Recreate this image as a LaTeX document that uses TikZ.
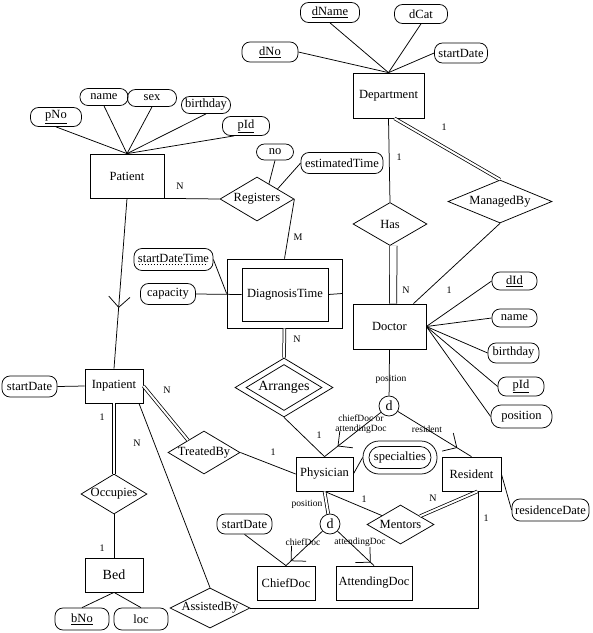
\documentclass[tikz,border=0pt]{standalone}
\usepackage{fontspec}
\setmainfont{Liberation Serif}
\usetikzlibrary{shapes.geometric,calc,positioning}

% V-shaped subset mark: apex on the line, opening toward the superclass
\newcommand{\isamark}[2]{\draw ($(#1)!15pt!45:(#2)$) -- (#1) -- ($(#1)!15pt!-45:(#2)$);}
% dashed underline for a partial key
\newcommand{\dashul}[1]{\setbox0\hbox{#1}\leavevmode\rlap{\raisebox{-2.2pt}{\hbox to \wd0{\leaders\hbox to 3pt{\hss\rule{1.8pt}{0.5pt}\hss}\hfill}}}\box0}

\begin{document}
\begin{tikzpicture}[x=1pt,y=-1pt,line width=0.75pt,
   every node/.style={font=\fontsize{12.5}{14}\selectfont},
   entity/.style={draw,rectangle,minimum width=58pt,minimum height=34pt,inner sep=2pt},
   attr/.style={draw,rounded corners=8pt,minimum height=19pt,inner xsep=3pt,inner ysep=1pt},
   rel/.style={draw,diamond,inner sep=0pt,
      execute at begin node={\hbox to 0pt\bgroup\hss},execute at end node={\hss\egroup}},
   disj/.style={draw,circle,minimum size=20pt,inner sep=0pt,font=\fontsize{14}{15}\selectfont},
   card/.style={font=\fontsize{10}{11}\selectfont,inner sep=1pt},
   role/.style={font=\fontsize{9.5}{10}\selectfont,inner sep=0.5pt,align=center},
   dbl/.style={double,double distance=2pt}]
 \useasboundingbox (0,0) rectangle (593,633);

 % entities
 \node[entity,minimum width=74pt,minimum height=44pt] (Patient) at (127,176) {Patient};
 \node[entity,minimum width=71pt,minimum height=45pt] (Department) at (388.5,95.5) {Department};
 \node[entity,minimum width=73pt,minimum height=45pt] (Doctor) at (389.5,326.5) {Doctor};
 \node[entity] (Inpatient) at (114,386) {Inpatient};
 \node[entity,font=\fontsize{14}{16}\selectfont] (Bed) at (114,575) {Bed};
 \node[entity,minimum width=57pt] (Physician) at (324.5,474) {Physician};
 \node[entity,minimum width=59pt] (Resident) at (471.5,474) {Resident};
 \node[entity] (ChiefDoc) at (286,583) {ChiefDoc};
 \node[entity,minimum width=76pt] (AttendingDoc) at (374,583) {AttendingDoc};
 \node[entity,minimum width=115pt,minimum height=69pt] (DiagTime) at (284.5,293.5) {};
 \node[entity,minimum width=86pt,minimum height=53pt] (DiagTimeIn) at (285,294.5) {DiagnosisTime};

 % relationships
 \node[rel,minimum width=74pt,minimum height=44pt] (Registers) at (257,199) {Registers};
 \node[rel,minimum width=74pt,minimum height=43pt] (Has) at (390,224) {Has};
 \node[rel,minimum width=104pt,minimum height=43pt] (ManagedBy) at (500,201.5) {ManagedBy};
 \node[rel,minimum width=72pt,minimum height=43pt] (TreatedBy) at (204,452.5) {TreatedBy};
 \node[rel,minimum width=66pt,minimum height=40pt] (Occupies) at (114,494) {Occupies};
 \node[rel,minimum width=67pt,minimum height=39pt] (Mentors) at (400.5,524.5) {Mentors};
 \node[rel,minimum width=80pt,minimum height=40pt] (AssistedBy) at (210,608) {AssistedBy};
 \node[rel,minimum width=98pt,minimum height=59pt,font=\fontsize{14}{16}\selectfont] (Arranges) at (284,387.5) {Arranges};
 \node[rel,minimum width=76pt,minimum height=46pt] (ArrangesIn) at (284,387.5) {};

 % specialisation circles
 \node[disj] (dOne) at (389,406) {d};
 \node[disj] (dTwo) at (330,524) {d};

 % attributes
 \node[attr,minimum width=51pt] (pNo) at (56,117) {\underline{pNo}};
 \node[attr,minimum width=48pt,minimum height=17pt] (name) at (104,97) {name};
 \node[attr,minimum width=49pt,minimum height=17pt] (sex) at (152,98) {sex};
 \node[attr,minimum width=49pt,minimum height=17pt] (birthday) at (206,105) {birthday};
 \node[attr,minimum width=47pt] (pIdP) at (246,126) {\underline{pId}};
 \node[attr,minimum width=37pt,minimum height=16pt] (no) at (275,152) {no};
 \node[attr,minimum width=82pt,minimum height=21pt] (estTime) at (342,163) {estimatedTime};
 \node[attr,minimum width=79pt,minimum height=22pt] (startDT) at (173.5,259.5) {\dashul{startDateTime}};
 \node[attr,minimum width=55pt,minimum height=21pt] (capacity) at (168,294) {capacity};
 \node[attr,minimum width=59pt,minimum height=20pt] (dName) at (330,12.5) {\underline{dName}};
 \node[attr,minimum width=53pt] (dCat) at (421,14) {dCat};
 \node[attr,minimum width=56pt,minimum height=20pt] (dNo) at (270,52) {\underline{dNo}};
 \node[attr,minimum width=53pt,minimum height=20pt] (startDateD) at (461,53) {startDate};
 \node[attr,minimum width=45pt,minimum height=18pt] (dId) at (514.5,281) {\underline{dId}};
 \node[attr,minimum width=45pt,minimum height=18pt] (nameD) at (514.5,318) {name};
 \node[attr,minimum width=51pt,minimum height=20pt] (birthdayD) at (513.5,353) {birthday};
 \node[attr,minimum width=46pt] (pIdD) at (521,386.5) {\underline{pId}};
 \node[attr,minimum width=61pt,minimum height=23pt,rounded corners=10pt] (positionD) at (521.5,416.5) {position};
 \node[attr,minimum width=74pt,minimum height=33pt,rounded corners=16pt] (Spec) at (400,457.5) {};
 \node[attr,minimum width=62pt,minimum height=22pt,rounded corners=11pt] (SpecIn) at (400,457.5) {specialties};
 \node[attr,minimum width=77pt,minimum height=22pt] (resDate) at (550.5,510) {residenceDate};
 \node[attr,minimum width=55pt,minimum height=21pt] (startDateI) at (29.5,386.5) {startDate};
 \node[attr,minimum width=55pt,minimum height=20pt] (startDateC) at (244.5,524) {startDate};
 \node[attr,minimum width=54pt,minimum height=22pt] (bNo) at (82,619) {\underline{bNo}};
 \node[attr,minimum width=54pt,minimum height=22pt] (loc) at (141,619) {loc};

 % attribute links
 \draw (Patient.north) -- (pNo.south);
 \draw (Patient.north) -- (name.south);
 \draw (Patient.north) -- (sex.south);
 \draw (Patient.north) -- (birthday.south);
 \draw (Patient.north) -- ($(pIdP.south west)!0.25!(pIdP.south east)$);
 \draw (no.south) -- ($(Registers.north)!0.32!(Registers.east)$);
 \draw (estTime.west) -- ($(Registers.north)!0.55!(Registers.east)$);
 \draw (startDT.east) -- (DiagTime.west);
 \draw (capacity.east) -- (DiagTimeIn.west);
 \draw (DiagTimeIn.east) -- (DiagTime.east);
 \foreach \a in {dName.south,dCat.south,dNo.east,startDateD.west}
   \draw (Department.north) -- (\a);
 \foreach \a in {dId,nameD,birthdayD,pIdD,positionD}
   \draw (Doctor.east) -- (\a.west);
 \draw (Physician.east) -- (Spec.west);
 \draw (Resident.east) -- (resDate.west);
 \draw (startDateI.east) -- (Inpatient.west);
 \draw (startDateC.south) -- (ChiefDoc.north);
 \draw (Bed.south) -- (bNo.north);
 \draw (Bed.south) -- (loc.north);

 % relationship links
 \draw (Patient.south east) -- (Registers.west);
 \draw (Registers.east) -- (DiagTime.north);
 \draw[dbl] (DiagTime.south) -- (Arranges.north);
 \draw (Arranges.south) -- (Physician.north);
 \draw (Department.south) -- (Has.north);
 \draw[dbl] ([xshift=6pt]Department.south) -- (ManagedBy.north);
 \draw[double,double distance=6.5pt] ([xshift=3.5pt]Has.south) -- ([xshift=3.5pt]Doctor.north);
 \draw (ManagedBy.south) -- ($(Doctor.north)!0.65!(Doctor.north east)$);
 \draw[dbl] (Inpatient.east) -- ($(TreatedBy.west)!0.56!(TreatedBy.north)$);
 \draw (TreatedBy.east) -- (Physician.west);
 \draw[dbl] (Inpatient.south) -- (Occupies.north);
 \draw (Occupies.south) -- (Bed.north);
 \draw ($(Inpatient.south)!0.85!(Inpatient.south east)$) -- (AssistedBy.north);
 \draw (Physician.south) -- ($(Mentors.west)!0.45!(Mentors.north)$);
 \draw[dbl] ($(Mentors.north)!0.58!(Mentors.east)$) -- ($(Resident.south)!0.2!(Resident.south east)$);
 \draw ($(Resident.south)!0.22!(Resident.south east)$) |- (AssistedBy.east);

 % specialisation links
 \draw (Patient.south) -- coordinate[pos=0.64] (isaP) (Inpatient.north);
 \isamark{isaP}{Patient}
 \draw (Doctor.south) -- (dOne);
 \draw (dOne) -- coordinate[pos=0.76] (isaPh) (Physician.north);
 \isamark{isaPh}{dOne}
 \draw (dOne) -- coordinate[pos=0.8] (isaR) (Resident.north);
 \isamark{isaR}{dOne}
 \draw[dbl] (Physician.south) -- (dTwo);
 \draw (dTwo) -- coordinate[pos=0.86] (isaC) (ChiefDoc.north);
 \isamark{isaC}{dTwo}
 \draw (dTwo) -- coordinate[pos=0.9] (isaA) (AttendingDoc.north);
 \isamark{isaA}{dTwo}

 % cardinalities
 \node[card] (nPR) at (180,186) {N};
 \node[card] (mRD) at (298,237) {M};
 \node[card] (nDA) at (297,339) {N};
 \node[card] (oAP) at (319,435) {1};
 \node[card] (oDH) at (399,157) {1};
 \node[card] (oDM) at (444,127) {1};
 \node[card] (nHD) at (406,290) {N};
 \node[card] (oMD) at (449,290) {1};
 \node[card] (nIT) at (167,390) {N};
 \node[card] (oTP) at (273,452) {1};
 \node[card] (oIO) at (102,417) {1};
 \node[card] (oOB) at (102,548) {1};
 \node[card] (nIA) at (137,443) {N};
 \node[card] (oPM) at (364,499) {1};
 \node[card] (nMR) at (433,498) {N};
 \node[card] (oRA) at (486,518) {1};

 % roles
 \node[role] (rPos) at (391,379) {position};
 \node[role] (rCA) at (361,424) {chiefDoc or\\attendingDoc};
 \node[role] (rRes) at (427,429) {resident};
 \node[role] (rPos2) at (307,504) {position};
 \node[role] (rChief) at (303,542) {chiefDoc};
 \node[role] (rAtt) at (360,542) {attendingDoc};
\end{tikzpicture}
\end{document}
